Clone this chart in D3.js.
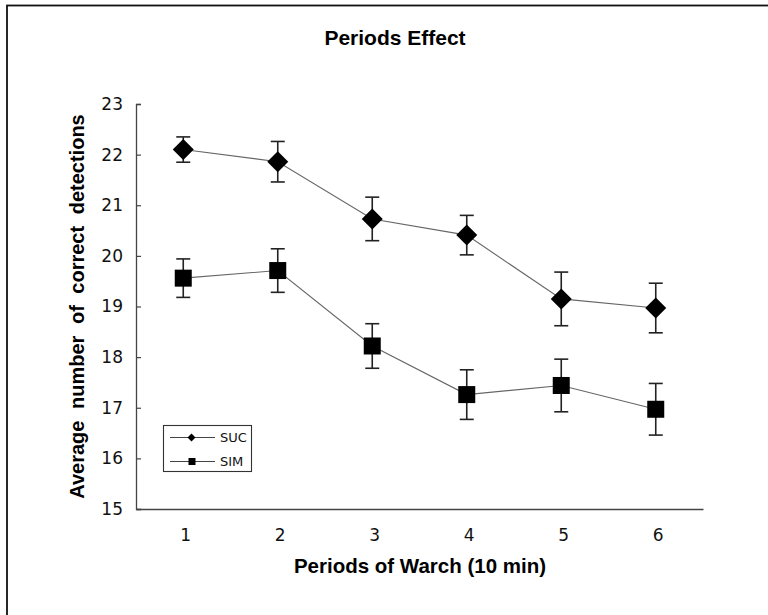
<!DOCTYPE html>
<html>
<head>
<meta charset="utf-8">
<script src="https://cdn.jsdelivr.net/npm/d3@7"></script>
<style>
  html, body { margin: 0; padding: 0; background: #fff; }
  svg { display: block; }
</style>
</head>
<body>
<svg id="chart" width="768" height="615"></svg>
<script>
// ---- data ----
const periods = ["1", "2", "3", "4", "5", "6"];
const sucValues = [22.10, 21.86, 20.73, 20.41, 19.15, 18.97];
const sucErrors = [0.25, 0.40, 0.43, 0.39, 0.53, 0.49];
const simValues = [19.56, 19.71, 18.22, 17.26, 17.44, 16.97];
const simErrors = [0.38, 0.43, 0.44, 0.49, 0.52, 0.51];
const yTicks = [15, 16, 17, 18, 19, 20, 21, 22, 23];
const seriesNames = ["SUC", "SIM"];
const chartTitle = "Periods Effect";
const xTitle = "Periods of Warch (10 min)";
const yTitle = "Average number of correct detections";

(function () {
const svg = d3.select("#chart");
const pLeft = 136, pRight = 703, pTop = 104, pBottom = 509;

// frame (right/bottom edges fall outside the picture)
svg.append("rect").attr("x", 7).attr("y", 5.5).attr("width", 800).attr("height", 700)
  .attr("fill", "none").attr("stroke", "#111").attr("stroke-width", 1.8);

const x = d3.scalePoint().domain(periods).range([pLeft, pRight]).padding(0.5);
const y = d3.scaleLinear().domain([15, 23]).range([pBottom, pTop]);

const tickFont = "'DejaVu Sans', Verdana, sans-serif";
const boldFont = "'Liberation Sans', Arial, Helvetica, sans-serif";

// y axis
const yAxis = svg.append("g").attr("transform", `translate(${pLeft},0)`)
  .call(d3.axisLeft(y).tickValues(yTicks).tickSize(-5).tickPadding(13).tickFormat(d3.format("d")));
yAxis.select(".domain").attr("stroke", "#444").attr("stroke-width", 1.3);
yAxis.selectAll(".tick line").attr("stroke", "#444").attr("stroke-width", 1.2);
yAxis.selectAll(".tick text").attr("font-family", tickFont).attr("font-size", 17).attr("fill", "#111");

// x axis
const xAxis = svg.append("g").attr("transform", `translate(0,${pBottom})`)
  .call(d3.axisBottom(x).tickSize(0).tickPadding(20));
xAxis.select(".domain").attr("stroke", "#444").attr("stroke-width", 1.3);
xAxis.selectAll(".tick text").attr("font-family", tickFont).attr("font-size", 17).attr("fill", "#111")
  .attr("dy", "0.71em").attr("dx", 2);

// titles
svg.append("text").attr("x", 395).attr("y", 45).attr("text-anchor", "middle")
  .attr("font-family", boldFont).attr("font-weight", "bold").attr("font-size", 21)
  .attr("fill", "#000").text(chartTitle);
svg.append("text").attr("x", 420).attr("y", 573).attr("text-anchor", "middle")
  .attr("font-family", boldFont).attr("font-weight", "bold").attr("font-size", 20.5)
  .attr("fill", "#000").text(xTitle);
svg.append("text").attr("transform", `translate(84,${(pTop + pBottom) / 2}) rotate(-90)`)
  .attr("text-anchor", "middle").attr("font-family", boldFont).attr("font-weight", "bold")
  .attr("font-size", 20).attr("word-spacing", 6).attr("fill", "#000").text(yTitle);

// series
const series = [
  { name: seriesNames[0], values: sucValues, errors: sucErrors, shape: "diamond" },
  { name: seriesNames[1], values: simValues, errors: simErrors, shape: "square" }
];

const line = d3.line().x((d, i) => x(periods[i])).y(d => y(d));

series.forEach(s => {
  const g = svg.append("g");
  g.append("path").datum(s.values).attr("d", line)
    .attr("fill", "none").attr("stroke", "#666").attr("stroke-width", 1.1);
  s.values.forEach((v, i) => {
    const cx = x(periods[i]);
    const y1 = y(v + s.errors[i]), y2 = y(v - s.errors[i]);
    g.append("line").attr("x1", cx).attr("x2", cx).attr("y1", y1).attr("y2", y2)
      .attr("stroke", "#222").attr("stroke-width", 1.6);
    [y1, y2].forEach(yy => g.append("line").attr("x1", cx - 7).attr("x2", cx + 7)
      .attr("y1", yy).attr("y2", yy).attr("stroke", "#222").attr("stroke-width", 1.6));
  });
  s.values.forEach((v, i) => {
    const cx = x(periods[i]), cy = y(v);
    if (s.shape === "diamond") {
      g.append("path").attr("d", `M${cx},${cy - 10.5}L${cx + 10.5},${cy}L${cx},${cy + 10.5}L${cx - 10.5},${cy}Z`)
        .attr("fill", "#000");
    } else {
      g.append("rect").attr("x", cx - 8.5).attr("y", cy - 8.5).attr("width", 17).attr("height", 17)
        .attr("fill", "#000");
    }
  });
});

// legend
const lg = svg.append("g");
lg.append("rect").attr("x", 163.5).attr("y", 425.5).attr("width", 88).attr("height", 46)
  .attr("fill", "#fff").attr("stroke", "#333").attr("stroke-width", 1.1);
series.forEach((s, i) => {
  const ly = 437.5 + i * 24;
  lg.append("line").attr("x1", 170).attr("x2", 215).attr("y1", ly).attr("y2", ly)
    .attr("stroke", "#444").attr("stroke-width", 1.1);
  if (s.shape === "diamond") {
    lg.append("path").attr("d", `M191.5,${ly - 4}L195.5,${ly}L191.5,${ly + 4}L187.5,${ly}Z`).attr("fill", "#000");
  } else {
    lg.append("rect").attr("x", 188.5).attr("y", ly - 3.5).attr("width", 7).attr("height", 7).attr("fill", "#000");
  }
  lg.append("text").attr("x", 220).attr("y", ly).attr("dy", "0.36em")
    .attr("font-family", tickFont).attr("font-size", 13).attr("fill", "#111").text(s.name);
});
})();
</script>
</body>
</html>
